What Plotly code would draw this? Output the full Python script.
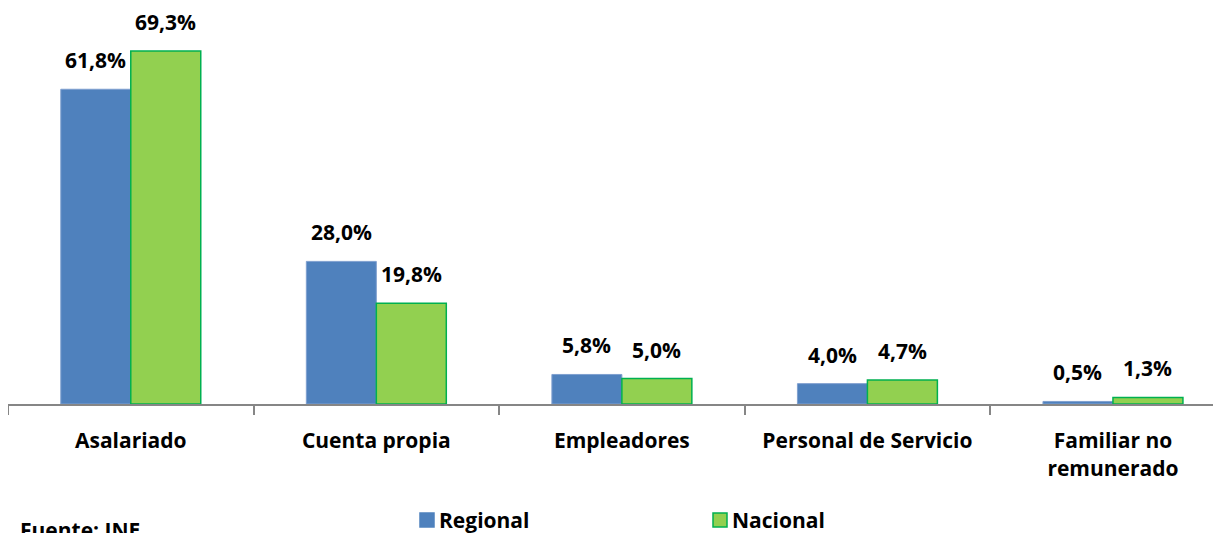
import plotly.graph_objects as go

# === Data ===
categorias = ["Asalariado", "Cuenta propia", "Empleadores", "Personal de Servicio", "Familiar no<br>remunerado"]
regional = [61.8, 28.0, 5.8, 4.0, 0.5]
nacional = [69.3, 19.8, 5.0, 4.7, 1.3]
series = ["Regional", "Nacional"]

AZUL = "#4F81BD"
VERDE = "#92D050"
BORDE_VERDE = "#00B050"
FONT = "Open Sans"
OFF = 8                      # page body margin
W, H = 1221 - OFF, 533 - OFF
ML, MR, MT, MB = 0, 0, 20 - OFF, 533 - 404

def px(x):  # screen pixel -> paper x
    return (x - OFF - ML) / (W - ML - MR)

def py(y):  # screen pixel -> paper y
    return (H - MB - (y - OFF)) / (H - MT - MB)

bold = dict(family=FONT, size=21, color="black", weight="bold")

fig = go.Figure()
fig.add_trace(go.Bar(x=categorias, y=regional, name=series[0],
                     marker=dict(color=AZUL, line=dict(color="#7F9FCF", width=1))))
fig.add_trace(go.Bar(x=categorias, y=nacional, name=series[1],
                     marker=dict(color=VERDE, line=dict(color=BORDE_VERDE, width=1.5))))

def fmt(v):
    return f"{v:.1f}%".replace(".", ",")

# value labels
for cat, r, n in zip(categorias, regional, nacional):
    fig.add_annotation(x=cat, y=r, text=fmt(r), showarrow=False, xshift=-35, yshift=13,
                       yanchor="bottom", font=bold)
    fig.add_annotation(x=cat, y=n, text=fmt(n), showarrow=False, xshift=35, yshift=13,
                       yanchor="bottom", font=bold)

# legend drawn by hand (keeps the margins fixed)
for nombre, color, borde, x0 in [(series[0], AZUL, AZUL, 420), (series[1], VERDE, BORDE_VERDE, 713)]:
    fig.add_shape(type="rect", xref="paper", yref="paper",
                  x0=px(x0), x1=px(x0 + 14), y0=py(527), y1=py(513),
                  fillcolor=color, line=dict(color=borde, width=1.5))
    fig.add_annotation(xref="paper", yref="paper", x=px(x0 + 17), y=py(520),
                       xanchor="left", yanchor="middle", text=nombre, showarrow=False, font=bold)

fig.add_annotation(xref="paper", yref="paper", x=px(18), y=py(514), xanchor="left", yanchor="top",
                   text="Fuente: INE", showarrow=False, font=bold)

fig.update_layout(
    width=W, height=H,
    margin=dict(l=ML, r=MR, t=MT, b=MB),
    plot_bgcolor="white", paper_bgcolor="white",
    barmode="group", bargap=0.43, bargroupgap=0,
    showlegend=False,
    xaxis=dict(range=[-0.5, 4.44], showline=True, linecolor="#868686", linewidth=2,
               ticks="outside", tickson="boundaries", ticklen=9, tickcolor="#868686", tickwidth=2,
               ticklabelstandoff=17, automargin=False, tickfont=bold),
    yaxis=dict(range=[0, 75.4], visible=False, showgrid=False, automargin=False),
)

fig.write_html("out.html")
